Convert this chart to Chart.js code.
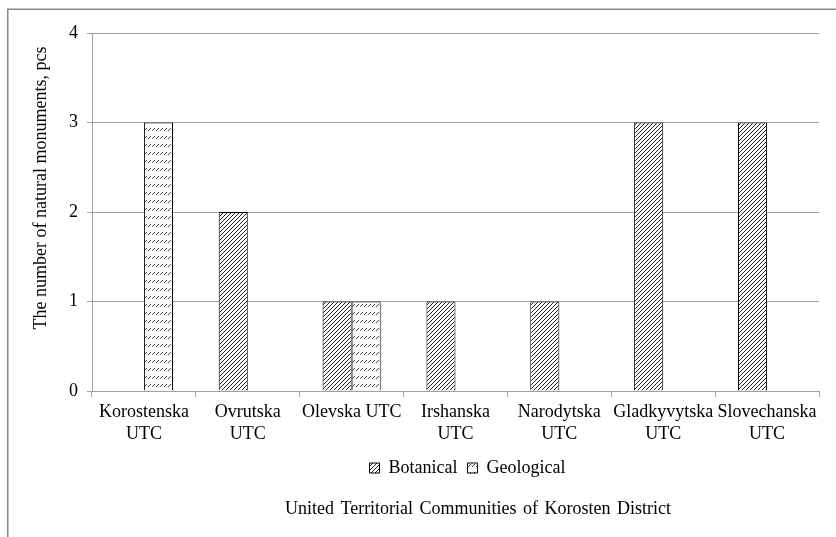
<!DOCTYPE html>
<html>
<head>
<meta charset="utf-8">
<script src="https://cdn.jsdelivr.net/npm/chart.js@4/dist/chart.umd.min.js"></script>
<style>
  body { margin: 0; background: #fff; }
  #wrap { width: 836px; height: 537px; position: relative; }
</style>
</head>
<body>
<div id="wrap"><canvas id="chart"></canvas></div>
<script>
const communities = [
  ['Korostenska', 'UTC'],
  ['Ovrutska', 'UTC'],
  'Olevska UTC',
  ['Irshanska', 'UTC'],
  ['Narodytska', 'UTC'],
  ['Gladkyvytska', 'UTC'],
  ['Slovechanska', 'UTC']
];
const botanical = [0, 2, 1, 1, 1, 3, 3];
const geological = [3, 0, 1, 0, 0, 0, 0];
const yTicks = [0, 1, 2, 3, 4];

const yTitle = 'The number of natural monuments, pcs';
const xTitle = 'United Territorial Communities of Korosten District';

const FONT = '"Liberation Serif", "Times New Roman", serif';
const GRID = '#a0a0a0';

// hatch fills like the office chart patterns
function makePattern(w, h, pixels, color) {
  const c = document.createElement('canvas');
  c.width = w;
  c.height = h;
  const g = c.getContext('2d');
  g.fillStyle = '#fff';
  g.fillRect(0, 0, w, h);
  g.fillStyle = color;
  pixels.forEach(p => g.fillRect(p[0], p[1], 1, 1));
  return g.createPattern(c, 'repeat');
}

const ctx = document.getElementById('chart').getContext('2d');
const diagFill = makePattern(4, 4, [[3, 0], [2, 1], [1, 2], [0, 3]], '#222');
const dashFill = makePattern(4, 8, [[2, 0], [1, 1], [0, 2]], '#444');

const noZeroBorder = c => (c.type === 'data' && c.raw === 0 ? 0 : 1);

const frameAndTitles = {
  id: 'frameAndTitles',
  afterLayout(chart) {
    // legend in the original sits right of centre
    if (chart.legend) {
      chart.legend.left += 58;
      chart.legend.right += 58;
    }
  },
  beforeDraw(chart) {
    const g = chart.ctx;
    g.save();
    g.fillStyle = '#fff';
    g.fillRect(0, 0, chart.width, chart.height);
    g.strokeStyle = '#888';
    g.lineWidth = 1.5;
    g.strokeRect(7.75, 9.25, chart.width + 20, chart.height + 20);
    g.restore();
  },
  afterDraw(chart) {
    const g = chart.ctx;
    const area = chart.chartArea;
    g.save();
    g.fillStyle = '#000';
    g.font = '18px ' + FONT;
    g.textAlign = 'center';
    g.textBaseline = 'middle';
    // y title sits a bit above the middle of the axis
    g.translate(41, area.top + 155);
    g.rotate(-Math.PI / 2);
    g.fillText(yTitle, 0, 0);
    g.restore();

    g.save();
    g.fillStyle = '#000';
    g.font = '18px ' + FONT;
    g.textAlign = 'center';
    g.textBaseline = 'middle';
    if ('wordSpacing' in g) g.wordSpacing = '2px';
    g.fillText(xTitle, area.left + 386, area.bottom + 118);
    g.restore();
  }
};

new Chart(ctx, {
  type: 'bar',
  data: {
    labels: communities,
    datasets: [
      {
        label: 'Botanical',
        data: botanical,
        backgroundColor: diagFill,
        borderColor: '#000',
        borderWidth: noZeroBorder
      },
      {
        label: 'Geological',
        data: geological,
        backgroundColor: dashFill,
        borderColor: '#000',
        borderWidth: noZeroBorder
      }
    ]
  },
  options: {
    responsive: true,
    maintainAspectRatio: false,
    animation: false,
    layout: { padding: { top: 33, right: 17, bottom: 50, left: 0 } },
    datasets: {
      bar: { categoryPercentage: 0.56, barPercentage: 1 }
    },
    scales: {
      x: {
        afterFit: s => { s.height = 58; },
        grid: { offset: true, drawOnChartArea: false, color: GRID, tickLength: 6 },
        border: { color: GRID },
        ticks: {
          maxRotation: 0,
          autoSkip: false,
          padding: 4,
          color: '#000',
          font: { family: FONT, size: 18, lineHeight: 1.22 }
        }
      },
      y: {
        min: 0,
        max: 4,
        afterFit: s => { s.width = 92; },
        afterBuildTicks: s => { s.ticks = yTicks.map(v => ({ value: v })); },
        grid: { color: GRID, tickLength: 5 },
        border: { color: GRID },
        ticks: {
          padding: 9,
          color: '#000',
          font: { family: FONT, size: 18 }
        }
      }
    },
    plugins: {
      legend: {
        position: 'bottom',
        labels: {
          boxWidth: 10,
          boxHeight: 10,
          padding: 10,
          color: '#000',
          font: { family: FONT, size: 18 },
          generateLabels: chart => {
            const items = Chart.defaults.plugins.legend.labels.generateLabels(chart);
            items.forEach(it => { it.lineWidth = 1; it.strokeStyle = '#000'; });
            return items;
          }
        }
      },
      tooltip: { enabled: false }
    }
  },
  plugins: [frameAndTitles]
});
</script>
</body>
</html>
